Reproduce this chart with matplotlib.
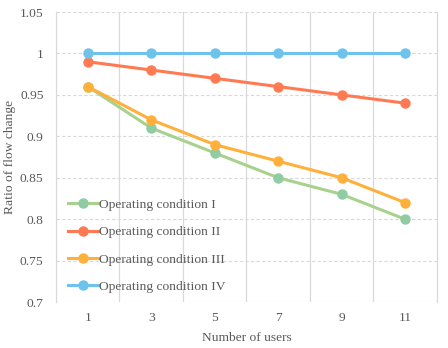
import matplotlib
matplotlib.use('Agg')
import matplotlib.pyplot as plt
import numpy as np

plt.rcParams['font.family'] = ['Liberation Serif', 'DejaVu Serif']

users = ['1', '3', '5', '7', '9', '11']
cond1 = [0.96, 0.91, 0.88, 0.85, 0.83, 0.80]
cond2 = [0.99, 0.98, 0.97, 0.96, 0.95, 0.94]
cond3 = [0.96, 0.92, 0.89, 0.87, 0.85, 0.82]
cond4 = [1.00, 1.00, 1.00, 1.00, 1.00, 1.00]
labels = ['Operating condition I', 'Operating condition II',
          'Operating condition III', 'Operating condition IV']

# line colour, marker face colour
styles = [('#a9d18e', '#8fcca3'), ('#ff7a52', '#ff7a52'),
          ('#ffb03b', '#ffb03b'), ('#6ec3ec', '#6ec3ec')]

fs = 9.7

fig = plt.figure(figsize=(4.48, 3.48), dpi=100)
ax = fig.add_axes([0.125, 0.132, 0.85, 0.8335])

x = np.arange(len(users))
for ys, lab, (lc, mc) in zip([cond1, cond2, cond3, cond4], labels, styles):
    ax.plot(x, ys, color=lc, lw=2.2, marker='o', ms=6.5, mfc=mc, mec=mc,
            label=lab, zorder=3)

ax.set_xlim(-0.5, len(users) - 0.5)
ax.set_ylim(0.7, 1.05)
ax.set_xticks(x)
ax.set_xticklabels(users)
yt = np.arange(0.7, 1.0501, 0.05)
ax.set_yticks(yt)
ax.set_yticklabels(['0.7', '0.75', '0.8', '0.85', '0.9', '0.95', '1', '1.05'])

# vertical separators between categories (solid), horizontal dashed grid
for b in np.arange(0.5, len(users) - 0.5, 1):
    ax.axvline(b, color='#d9d9d9', lw=0.9, zorder=1)
for v in yt:
    ax.axhline(v, color='#d9d9d9', lw=0.8, ls=(0, (3, 2)), zorder=1)

for s in ['top', 'bottom']:
    ax.spines[s].set_visible(False)
for s in ['left', 'right']:
    ax.spines[s].set_color('#d9d9d9')
    ax.spines[s].set_linewidth(0.9)

ax.tick_params(length=0, labelsize=fs, colors='#595959')
ax.tick_params(axis='x', pad=7)
ax.tick_params(axis='y', pad=9)
ax.set_xlabel('Number of users', fontsize=fs, color='#595959', labelpad=6)
ax.set_ylabel('Ratio of flow change', fontsize=fs, color='#595959', labelpad=3)

leg = ax.legend(loc='lower left', bbox_to_anchor=(0.0, -0.01), frameon=False,
                fontsize=fs, labelcolor='#595959', handlelength=2.2,
                handletextpad=0.1, labelspacing=1.1)

fig.savefig('out.png', dpi=100)
